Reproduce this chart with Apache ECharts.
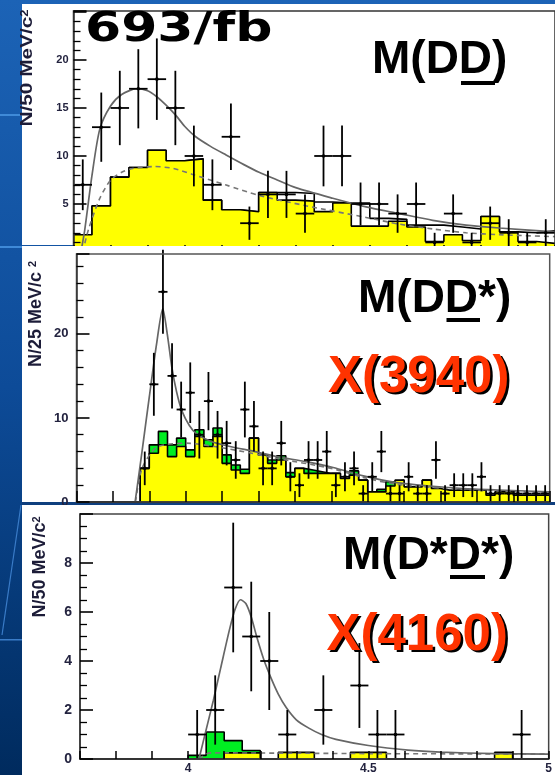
<!DOCTYPE html>
<html><head><meta charset="utf-8">
<script src="https://cdn.jsdelivr.net/npm/echarts@6/dist/echarts.min.js"></script>
<style>html,body{margin:0;padding:0;background:#fff;}#c{width:555px;height:775px;}</style>
</head><body><div id="c"></div>
<script>
// ---------- data ----------
const X_MIN = 3.7, X_MAX = 5.0;
// Panel 1: M(DD), N / 50 MeV bins from 3.70
const p1BinW = 0.05;
const p1Counts  = [7,13,15,17,18,15,10,7,12,3,6,6,4,10,10,5,5,4,5,1,4,1,3,2,1,2];
const p1Yellow  = [1.8,4.8,7.8,8.8,10.6,9.5,9.7,5.4,4.4,4.2,6.2,5.4,5.3,4.2,5.1,2.7,2.7,3.2,2.6,1.1,1.8,1.2,3.7,2.1,1.1,0.9];
const p1Outline = [1.8,4.8,7.8,8.8,10.6,9.5,9.7,5.4,4.4,4.2,6.2,6.2,6.1,5.2,5.1,5.1,3.5,3.4,2.8,2.8,2.6,2.4,3.7,2.1,2.0,2.2];
const p1Fit = [[3.72,0],[3.73,2.2],[3.75,8],[3.771,12.8],[3.80,15.2],[3.83,16.4],[3.87,17],[3.90,16.8],[3.924,16.2],[3.95,15.3],[3.977,14.2],[4.0,13.1],[4.03,12.0],[4.07,11.0],[4.112,10.1],[4.16,9.1],[4.201,8.3],[4.25,7.5],[4.30,6.7],[4.40,5.6],[4.49,4.7],[4.58,4.0],[4.67,3.3],[4.76,2.8],[4.85,2.5],[5.0,2.1]];
const p1Bkg = [[3.725,0],[3.74,2.3],[3.77,5.5],[3.80,7.5],[3.83,8.3],[3.86,8.7],[3.92,8.9],[3.97,8.7],[4.02,8.1],[4.11,7.0],[4.20,5.9],[4.33,4.8],[4.49,3.6],[4.58,2.9],[4.67,2.4],[4.76,2.0],[4.85,1.8],[5.0,1.6]];

// Panel 2: M(DD*), N / 25 MeV bins from 3.70
const p2BinW = 0.025;
const p2Counts = [0,0,0,0,0,0,0,4,14,25,15,11,13,8,12,8,7,5,11,9,4,4,7,3,2,5,5,6,2,3,4,1,3,6,1,1,3,1,1,5,1,2,2,2,3,1,1,1,1,1,1,1];
const p2Yellow = [0,0,0,0,0,0,0,4.0,5.8,6.8,5.4,6.6,5.4,7.8,6.6,7.8,4.6,3.8,3.4,7.6,5.6,4.6,5.0,3.0,4.0,3.4,3.4,3.4,3.4,2.8,3.2,2.6,1.2,1.2,1.9,2.6,1.8,1.8,2.6,1.6,1.4,1.4,1.4,1.4,1.4,0.8,1.2,1.2,0.8,0.8,0.8,0.8];
const p2Green  = [0,0,0,0,0,0,0,4.0,6.8,8.4,6.8,7.6,6.2,8.6,7.4,8.8,5.6,4.4,3.9,7.6,5.6,5.0,5.5,3.5,4.0,3.8,3.6,3.4,3.4,2.8,3.7,2.6,1.2,1.5,2.4,2.6,1.8,1.8,2.6,1.6,1.4,1.4,1.4,1.4,1.4,0.8,1.2,1.2,0.8,0.8,0.8,0.8];
const p2Fit = [[3.861,0],[3.88,6],[3.90,12.5],[3.92,18.8],[3.937,23],[3.95,19.8],[3.962,16],[3.975,13.1],[3.989,10.9],[4.01,9.1],[4.03,8.1],[4.07,7.2],[4.122,6.6],[4.19,6.0],[4.25,5.4],[4.33,4.8],[4.405,4.1],[4.488,3.1],[4.58,2.3],[4.67,1.9],[4.762,1.6],[4.88,1.4],[5.0,1.2]];
const p2Bkg = [[3.862,0],[3.88,4],[3.92,6.5],[4.0,7.0],[4.12,6.3],[4.25,5.2],[4.4,4.0],[4.49,2.9],[4.58,2.1],[4.76,1.5],[5.0,1.1]];

// Panel 3: M(D*D*), N / 50 MeV bins from 3.70
const p3BinW = 0.05;
const p3Counts = [0,0,0,0,0,0,1,2,7,5,4,1,0,2,0,3,1,1,0,0,0,0,0,0,1,0];
const p3Green  = [0,0,0,0,0,0,0.15,1.1,0.75,0.35,0,0,0,0,0,0,0,0,0,0,0,0,0,0,0,0];
const p3Yellow = [0,0,0,0,0,0,0,0,0.25,0.25,0,0.27,0.27,0,0,0.27,0.27,0,0,0,0,0,0,0.27,0,0];
const p3Fit = [[4.03,0],[4.05,1.2],[4.07,2.4],[4.09,3.7],[4.115,5.3],[4.13,6.1],[4.145,6.5],[4.16,6.35],[4.175,5.8],[4.19,5.0],[4.21,4.05],[4.23,3.3],[4.25,2.65],[4.272,2.1],[4.30,1.6],[4.336,1.25],[4.37,1.0],[4.41,0.8],[4.5,0.55],[4.61,0.36],[4.7,0.28],[4.85,0.22],[5.0,0.2]];
const p3Bkg = [[4.03,0],[4.06,0.25],[4.5,0.22],[5.0,0.2]];

// tick labels / texts
const titleTop = '693/fb';
const label1 = 'M(DD)', label2 = 'M(DD*)', label3 = 'M(D*D*)';
const state2 = 'X(3940)', state3 = 'X(4160)';

// ---------- helpers ----------
function stepData(vals, binW){
  const d = vals.map((v,k)=>[X_MIN + k*binW, v]);
  d.push([X_MIN + vals.length*binW, vals[vals.length-1]]);
  return d;
}
function histSeries(g, vals, binW, color, z){
  return {type:'line', step:'end', xAxisIndex:g, yAxisIndex:g, z, silent:true,
    data: stepData(vals, binW), symbol:'none',
    lineStyle:{color:'#000', width:1.6}, areaStyle:{color:color, opacity:1}};
}
function curveSeries(g, data, dashed, z){
  return {type:'line', xAxisIndex:g, yAxisIndex:g, z, silent:true, data, symbol:'none',
    smooth:0.25,
    lineStyle: dashed ? {color:'#777', width:1.6, type:[5,4]} : {color:'#666', width:1.7}};
}
function crossSeries(g, counts, binW, z){
  const data = [];
  counts.forEach((n,k)=>{ if(n>0) data.push([X_MIN + (k+0.5)*binW, n, Math.sqrt(n), binW/2]); });
  return {type:'custom', xAxisIndex:g, yAxisIndex:g, z, silent:true, data,
    encode:{x:0, y:1},
    renderItem(params, api){
      const x=api.value(0), y=api.value(1), e=api.value(2), h=api.value(3);
      const t=api.coord([x,y+e]), b=api.coord([x,Math.max(0,y-e)]);
      const l=api.coord([x-h,y]), r=api.coord([x+h,y]), c=api.coord([x,y]);
      return {type:'group', children:[
        {type:'line', shape:{x1:t[0],y1:t[1],x2:b[0],y2:b[1]}, style:{stroke:'#000',lineWidth:1.8}},
        {type:'line', shape:{x1:l[0],y1:l[1],x2:r[0],y2:r[1]}, style:{stroke:'#000',lineWidth:1.8}},
        {type:'circle', shape:{cx:c[0],cy:c[1],r:1.8}, style:{fill:'#000'}}
      ]};
    }};
}
const labFont = {fontFamily:'Liberation Sans, Arial', fontWeight:'bold', color:'#23233f'};
function xAx(g, z, tickLen, showLabels){
  return {gridIndex:g, type:'value', min:X_MIN, max:X_MAX, interval:0.1, z,
    axisLine:{show:true, lineStyle:{color:'#333', width:1.5}},
    axisTick:{show:true, inside:true, length:tickLen, lineStyle:{color:'#000', width:1.5}},
    splitLine:{show:false},
    axisLabel: showLabels ? Object.assign({show:true, fontSize:12, margin:4,
      formatter:v=>{const r=Math.round(v*10)/10; return r===4?'4':r===4.5?'4.5':r===5?'5':'';}}, labFont) : {show:false}};
}
function yAx(g, z, max, interval, minorSplit, fs, margin, hideAbove){
  return {gridIndex:g, type:'value', min:0, max, interval, z,
    axisLine:{show:true, lineStyle:{color:'#333', width:1.5}},
    axisTick:{show:true, inside:true, length:13, lineStyle:{color:'#000', width:1.6}},
    minorTick:{show:true, splitNumber:minorSplit, length:7, lineStyle:{color:'#000', width:1.3}},
    splitLine:{show:false}, minorSplitLine:{show:false},
    axisLabel:Object.assign({show:true, fontSize:fs, margin,
      formatter:v=> v>hideAbove+1e-6 ? '' : String(Math.round(v))}, labFont)};
}
function yTitle(x, y, main, fs, scale, z){
  return {type:'text', x, y, rotation:Math.PI/2, scaleX:scale, z,
    style:{text:'{a|'+main+'}{s|2}', textAlign:'center', textVerticalAlign:'middle',
      rich:{a:{font:'bold '+fs+'px "Liberation Sans", Arial', fill:'#1c1c38'},
            s:{font:'bold '+Math.round(fs*0.6)+'px "Liberation Sans", Arial', fill:'#1c1c38', verticalAlign:'top'}}}};
}
function bigText(x, y, text, fs, color, z, shadow){
  const els = [];
  if (shadow) els.push({type:'text', x:x+2.5, y:y+2.5, z,
    style:{text, font:'bold '+fs+'px "Liberation Sans", Arial', fill:'#000', textAlign:'left', textVerticalAlign:'middle'}});
  els.push({type:'text', x, y, z, style:{text, font:'bold '+fs+'px "Liberation Sans", Arial', fill:color, textAlign:'left', textVerticalAlign:'middle'}});
  return els;
}

const chart = echarts.init(document.getElementById('c'), null, {renderer:'canvas'});
const option = {
  animation:false,
  backgroundColor:'#ffffff',
  grid:[
    {left:73.5, top:11, width:483.6, height:241, show:true, borderColor:'#333', borderWidth:1.5, z:14},
    {left:76.5, top:254, width:473.2, height:248, show:true, borderColor:'#555', borderWidth:1.5, z:25},
    {left:80, top:514, width:470, height:246, show:true, borderColor:'#444', borderWidth:1.5, z:35}
  ],
  xAxis:[ xAx(0,14,7,false), xAx(1,25,11,false), xAx(2,35,8,true) ],
  yAxis:[
    yAx(0,14,25.1,5,5,11,5,20),
    yAx(1,25,29.5,10,5,13,8,20),
    yAx(2,35,10,2,4,14,8,8)
  ],
  series:[
    histSeries(0, p1Outline, p1BinW, '#ffffff', 10),
    histSeries(0, p1Yellow, p1BinW, '#ffff00', 11),
    curveSeries(0, p1Bkg, true, 12),
    curveSeries(0, p1Fit, false, 12),
    crossSeries(0, p1Counts, p1BinW, 13),

    histSeries(1, p2Green, p2BinW, '#00ee22', 21),
    histSeries(1, p2Yellow, p2BinW, '#ffff00', 22),
    curveSeries(1, p2Bkg, true, 23),
    curveSeries(1, p2Fit, false, 23),
    crossSeries(1, p2Counts, p2BinW, 24),

    histSeries(2, p3Green, p3BinW, '#00ee22', 31),
    histSeries(2, p3Yellow, p3BinW, '#ffff00', 32),
    curveSeries(2, p3Bkg, true, 33),
    curveSeries(2, p3Fit, false, 33),
    crossSeries(2, p3Counts, p3BinW, 34)
  ],
  graphic:[
    {type:'rect', z:0, shape:{x:0,y:0,width:555,height:775},
     style:{fill:new echarts.graphic.LinearGradient(0,0,0,1,[{offset:0,color:'#1c63b6'},{offset:0.5,color:'#0d4b98'},{offset:1,color:'#002b5e'}])}},
    {type:'rect', z:0, shape:{x:0,y:114,width:22,height:2}, style:{fill:'#3f8ad8'}},
    {type:'rect', z:0, shape:{x:0,y:246,width:22,height:2}, style:{fill:'#3f8ad8'}},
    {type:'rect', z:0, shape:{x:0,y:639,width:22,height:1.5}, style:{fill:'#3a7cc8'}},
    {type:'line', z:0, shape:{x1:2,y1:635,x2:21,y2:505}, style:{stroke:'#3a7cc8', lineWidth:1.2}},
    {type:'rect', z:1, shape:{x:22,y:4,width:533,height:241}, style:{fill:'#ffffff'}},
    {type:'rect', z:20, shape:{x:22,y:246,width:533,height:256}, style:{fill:'#ffffff'}},
    {type:'rect', z:20, shape:{x:22,y:502,width:533,height:3}, style:{fill:'#0f3f7e'}},
    {type:'rect', z:30, shape:{x:22,y:505,width:533,height:270}, style:{fill:'#ffffff'}},
    yTitle(28, 68, 'N/50 MeV/c', 16, 1.3, 15),
    yTitle(36.5, 314, 'N/25 MeV/c ', 18, 1.0, 26),
    yTitle(40, 567, 'N/50 MeV/c', 18, 1.0, 36),
    {type:'text', x:85, y:30.2, scaleX:1.3, z:40,
     style:{text:titleTop, font:'bold 40px "DejaVu Sans", Verdana', fill:'#000', textAlign:'left', textVerticalAlign:'middle'}},
    ...bigText(372, 60.5, label1, 46, '#000', 40, false),
    {type:'rect', z:40, shape:{x:461,y:81,width:34,height:4}, style:{fill:'#000'}},
    ...bigText(358, 299.7, label2, 46, '#000', 40, false),
    {type:'rect', z:40, shape:{x:446.5,y:318,width:33.5,height:4}, style:{fill:'#000'}},
    ...bigText(328, 377.5, state2, 51, '#ff3300', 40, true),
    ...bigText(343, 556.4, label3, 46, '#000', 40, false),
    {type:'rect', z:40, shape:{x:450,y:575,width:35,height:4}, style:{fill:'#000'}},
    ...bigText(326.5, 635.8, state3, 51, '#ff3300', 40, true)
  ]
};
chart.setOption(option);
</script></body></html>
